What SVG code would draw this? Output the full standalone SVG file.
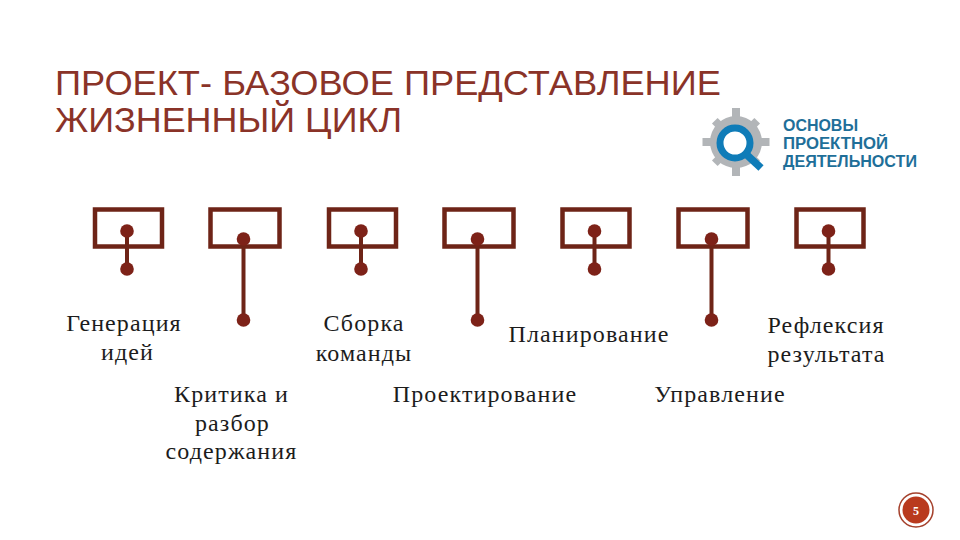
<svg xmlns="http://www.w3.org/2000/svg" width="960" height="540" viewBox="0 0 960 540">
<defs>
<style>
.title{font-family:"Liberation Sans",Arial,sans-serif;font-size:35px;fill:#8a3328}
.lbl{font-family:"Liberation Serif","Times New Roman",serif;font-size:24px;fill:#1c1c1c;text-anchor:middle;letter-spacing:1.1px}
.box{fill:none;stroke:#6e2417;stroke-width:4.5}
.ln{stroke:#6e2417;stroke-width:4;fill:none}
.dot{fill:#7d2218}
.logo{font-family:"Liberation Sans",sans-serif;font-weight:700;font-size:16px;fill:#1f6f99}
</style>
<g id="pin-short"><rect class="box" x="95" y="209.500" width="67" height="37"/><line class="ln" x1="127" y1="231" x2="127" y2="269"/><circle class="dot" cx="127" cy="231" r="6.800"/><circle class="dot" cx="127" cy="269" r="6.800"/></g>
<g id="pin-long"><rect class="box" x="210.500" y="209.500" width="69" height="37"/><line class="ln" x1="243.500" y1="239" x2="243.500" y2="320"/><circle class="dot" cx="243.500" cy="239" r="6.800"/><circle class="dot" cx="243.500" cy="320" r="6.800"/></g>
</defs>
<rect width="960" height="540" fill="#fff"/>
<g id="title"><text class="title" x="55" y="95" textLength="666" lengthAdjust="spacingAndGlyphs">ПРОЕКТ- БАЗОВОЕ ПРЕДСТАВЛЕНИЕ</text><text class="title" x="55" y="132" textLength="347" lengthAdjust="spacingAndGlyphs">ЖИЗНЕННЫЙ ЦИКЛ</text></g>
<g id="logo">
<g fill="#b2b5b8"><rect x="732" y="108" width="8" height="68"/><rect x="702.500" y="138" width="67" height="8"/><rect x="732" y="112" width="8" height="60" transform="rotate(45 736 142)"/><rect x="732" y="112" width="8" height="60" transform="rotate(-45 736 142)"/><circle cx="736" cy="142" r="26"/></g>
<circle cx="735" cy="143" r="15" fill="#fff" stroke="#0f7cb8" stroke-width="7"/>
<line x1="747" y1="155" x2="761" y2="168" stroke="#0f7cb8" stroke-width="7.500"/>
<text class="logo" x="783" y="131" textLength="75" lengthAdjust="spacingAndGlyphs">ОСНОВЫ</text><text class="logo" x="783" y="149" textLength="105" lengthAdjust="spacingAndGlyphs">ПРОЕКТНОЙ</text><text class="logo" x="783" y="167" textLength="134" lengthAdjust="spacingAndGlyphs">ДЕЯТЕЛЬНОСТИ</text>
</g>
<g id="connectors">
<use href="#pin-short"/>
<use href="#pin-long"/>
<use href="#pin-short" x="234"/>
<use href="#pin-long" x="234"/>
<use href="#pin-short" x="467.500"/>
<use href="#pin-long" x="468"/>
<use href="#pin-short" x="701.500"/>
</g>
<g id="node-generation"><text class="lbl" x="124" y="331">Генерация</text><text class="lbl" x="127.500" y="360">идей</text></g>
<g id="node-critique"><text class="lbl" x="231.500" y="402">Критика и</text><text class="lbl" x="232.500" y="431">разбор</text><text class="lbl" x="231.500" y="459">содержания</text></g>
<g id="node-team"><text class="lbl" x="364" y="331">Сборка</text><text class="lbl" x="364" y="361">команды</text></g>
<g id="node-design"><text class="lbl" x="485" y="402">Проектирование</text></g>
<g id="node-planning"><text class="lbl" x="589" y="342">Планирование</text></g>
<g id="node-management"><text class="lbl" x="720" y="402">Управление</text></g>
<g id="node-reflection"><text class="lbl" x="826" y="333">Рефлексия</text><text class="lbl" x="826.500" y="362">результата</text></g>
<g id="page-number"><circle cx="916" cy="510" r="17" fill="#fff" stroke="#a5412c" stroke-width="1.500"/><circle cx="916" cy="510" r="13.500" fill="#b93a1e"/><text x="916" y="515" text-anchor="middle" font-family="Liberation Serif,serif" font-weight="700" font-size="12" fill="#fff">5</text></g>
</svg>
